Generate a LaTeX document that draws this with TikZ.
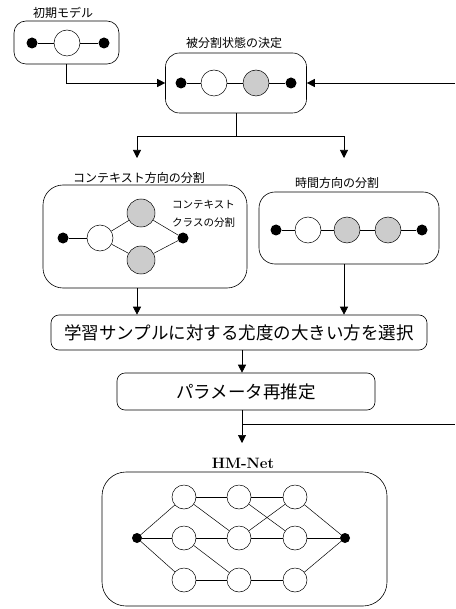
\documentclass[tikz,border=0pt]{standalone}
\usepackage{fontspec}
\newfontfamily\jp{Noto Sans CJK JP}
\usetikzlibrary{arrows.meta}
\begin{document}
\begin{tikzpicture}[x=1pt,y=-1pt,
  box/.style={draw, rounded corners=14pt, line width=0.6pt, inner sep=0},
  sbox/.style={draw, rounded corners=8pt, line width=0.6pt, inner sep=0},
  bdot/.style={circle, fill=black, inner sep=0, minimum size=11pt},
  wst/.style={circle, draw, fill=white, inner sep=0, minimum size=26pt, line width=0.5pt},
  gst/.style={circle, draw, fill=gray!40, inner sep=0, minimum size=28pt, line width=0.5pt},
  hst/.style={circle, draw, fill=white, inner sep=0, minimum size=24pt, line width=0.5pt},
  lbl/.style={font=\jp\fontsize{12}{14}\selectfont, inner sep=0},
  big/.style={font=\jp\fontsize{17.5}{20}\selectfont, inner sep=0},
  arr/.style={-{Triangle[length=8pt,width=8pt]}, line width=0.6pt},
  ln/.style={line width=0.5pt}]
\useasboundingbox (0,0) rectangle (455,609);

% ---- box 1: initial model
\node[lbl] (l1) at (63,13) {初期モデル};
\node[box, rounded corners=12pt, minimum width=105pt, minimum height=43pt] (b1) at (66.5,42.5) {};
\node[bdot] (a1) at (32,43) {};
\node[wst] (a2) at (67,43) {};
\node[bdot] (a3) at (104,43) {};
\draw[ln] (a1) -- (a2) -- (a3);

% ---- box 2
\node[lbl] (l2) at (234,43) {被分割状態の決定};
\node[box, minimum width=141pt, minimum height=60pt] (b2) at (236,83) {};
\node[bdot] (c1) at (181,83) {};
\node[wst] (c2) at (214,83) {};
\node[gst, minimum size=26pt] (c3) at (256,83) {};
\node[bdot] (c4) at (291,83) {};
\draw[ln] (c1) -- (c2) -- (c3) -- (c4);

\draw[arr] (b1.south) |- (b2.west);
\coordinate (fb1) at (455,83);
\draw[arr] (fb1) -- (b2.east);

% split
\coordinate (t3) at (137,158);
\coordinate (t4) at (344,158);
\draw[ln] (b2.south) -- ++(0,23) coordinate (j1);
\draw[arr] (j1) -| (t3);
\draw[arr] (j1) -| (t4);

% ---- box 3: context split
\node[lbl] (l3) at (139,178) {コンテキスト方向の分割};
\node[box, rounded corners=20pt, minimum width=204pt, minimum height=103pt] (b3) at (145,236.5) {};
\node[bdot] (d1) at (63,238) {};
\node[wst] (d2) at (100,238) {};
\node[gst] (d3) at (141,213) {};
\node[gst] (d4) at (141,260) {};
\node[bdot] (d5) at (183,238) {};
\draw[ln] (d1) -- (d2);
\draw[ln] (d2) -- (d3) -- (d5);
\draw[ln] (d2) -- (d4) -- (d5);
\node[font=\jp\fontsize{10.5}{18}\selectfont, align=left, inner sep=0, anchor=west] (ctx) at (172,214) {コンテキスト\\クラスの分割};

% ---- box 4: time split
\node[lbl] (l4) at (337,183) {時間方向の分割};
\node[box, rounded corners=16pt, minimum width=180pt, minimum height=72pt] (b4) at (349,228) {};
\node[bdot] (e1) at (276,230) {};
\node[wst] (e2) at (308,230) {};
\node[gst, minimum size=26pt] (e3) at (347,230) {};
\node[gst, minimum size=26pt] (e4) at (388,230) {};
\node[bdot] (e5) at (422,230) {};
\draw[ln] (e1) -- (e2) -- (e3) -- (e4) -- (e5);

% ---- box 5
\node[sbox, minimum width=376pt, minimum height=35pt, big] (b5) at (239,332.5) {学習サンプルに対する尤度の大きい方を選択};
\draw[arr] (b3.south -| t3) -- (b5.north -| t3);
\draw[arr] (b4.south -| t4) -- (b5.north -| t4);

% ---- box 6
\coordinate (cx) at (242,0);
\node[sbox, minimum width=258pt, minimum height=37pt, big] (b6) at (246,391.5) {パラメータ再推定};
\draw[arr] (b5.south -| cx) -- (b6.north -| cx);

% ---- HM-Net
\node[font=\bfseries\fontsize{15}{18}\selectfont, inner sep=0] (hm) at (243,463) {HM-Net};
\coordinate (t7) at (242,443);
\draw[arr] (b6.south -| cx) -- (t7);
\coordinate (fb2) at (455,424);
\draw[ln] (cx |- fb2) -- (fb2);

\node[box, rounded corners=24pt, minimum width=285pt, minimum height=134pt] (b7) at (244.5,539) {};
\node[bdot, minimum size=10pt] (hl) at (137,538) {};
\node[bdot, minimum size=10pt] (hr) at (345,538) {};
\foreach \c/\x in {1/184,2/239,3/295}{
  \foreach \r/\y in {1/497,2/538,3/580}{
    \node[hst] (h\c\r) at (\x,\y) {};
  }
}
\draw[ln] (hl) -- (h11); \draw[ln] (hl) -- (h12); \draw[ln] (hl) -- (h13);
\draw[ln] (h11) -- (h21); \draw[ln] (h11) -- (h22);
\draw[ln] (h12) -- (h22); \draw[ln] (h12) -- (h23);
\draw[ln] (h13) -- (h23);
\draw[ln] (h21) -- (h31); \draw[ln] (h21) -- (h32);
\draw[ln] (h22) -- (h31); \draw[ln] (h22) -- (h32);
\draw[ln] (h23) -- (h33);
\draw[ln] (h31) -- (hr); \draw[ln] (h32) -- (hr); \draw[ln] (h33) -- (hr);
\end{tikzpicture}
\end{document}
